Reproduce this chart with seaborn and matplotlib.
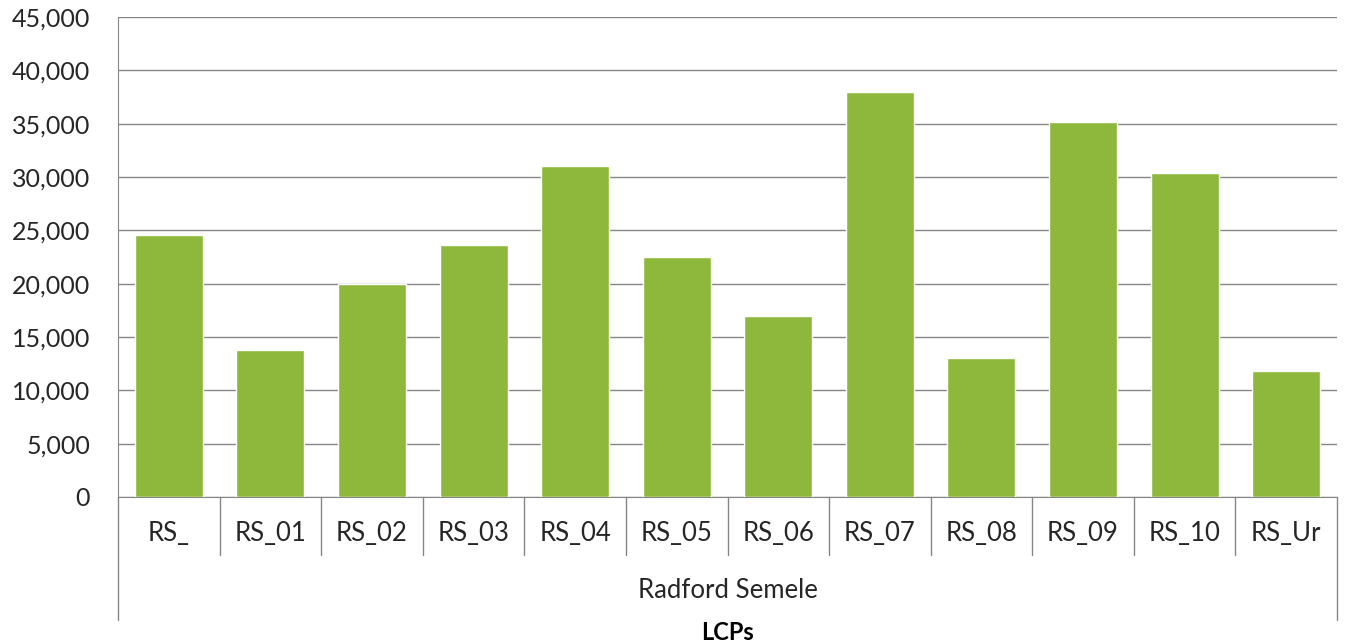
import matplotlib
matplotlib.use("Agg")
import matplotlib.pyplot as plt
import seaborn as sns
import pandas as pd
from matplotlib.ticker import FuncFormatter, MultipleLocator

categories = ["RS_", "RS_01", "RS_02", "RS_03", "RS_04", "RS_05",
              "RS_06", "RS_07", "RS_08", "RS_09", "RS_10", "RS_Ur"]
values = [24600, 13800, 20000, 23600, 31000, 22500,
          17000, 38000, 13000, 35200, 30400, 11800]
group_label = "Radford Semele"
x_title = "LCPs"

sns.set_style("white")
plt.rcParams['font.family'] = ['Lato', 'DejaVu Sans']

df = pd.DataFrame({"cat": categories, "val": values})

W, H = 1346, 644
fig = plt.figure(figsize=(W / 100, H / 100), dpi=100)
ax = fig.add_axes([118 / W, (H - 497) / H, (1337 - 118) / W, 480 / H])

sns.barplot(data=df, x="cat", y="val", color="#8db83c", saturation=1,
            width=0.67, ax=ax, zorder=3)

ax.set_ylim(0, 45000)
ax.set_xlim(-0.5, len(categories) - 0.5)
ax.yaxis.set_major_locator(MultipleLocator(5000))
ax.yaxis.set_major_formatter(FuncFormatter(lambda v, p: f"{int(v):,}"))
ax.grid(axis="y", color="#868686", linewidth=1.0, zorder=0)
ax.set_axisbelow(True)

for s in ["top", "right"]:
    ax.spines[s].set_visible(False)
ax.spines["left"].set_color("#868686")
ax.spines["bottom"].set_color("#868686")
ax.spines["left"].set_bounds(0, 45000)

ax.tick_params(axis="y", length=5, width=1, color="#868686", pad=15,
               labelsize=18, labelcolor="#262626", direction="out")
ax.tick_params(axis="x", length=0, pad=17, labelsize=18.5, labelcolor="#262626")
ax.set_xlabel("")
ax.set_ylabel("")

# category separators (below axis)
sep_bottom = -58 / 480
outer_bottom = -123 / 480
n = len(categories)
for i in range(n + 1):
    xp = i / n
    yb = outer_bottom if i in (0, n) else sep_bottom
    ax.plot([xp, xp], [0, yb], transform=ax.transAxes, color="#868686",
            linewidth=1.0, clip_on=False)

ax.text(0.5, -94 / 480, group_label, transform=ax.transAxes, ha="center",
        va="center", fontsize=18.5, color="#262626")
ax.text(0.5, -135 / 480, x_title, transform=ax.transAxes, ha="center",
        va="center", fontsize=17, fontweight="bold", color="#000000")

fig.savefig("out.png", dpi=100, facecolor="white")
